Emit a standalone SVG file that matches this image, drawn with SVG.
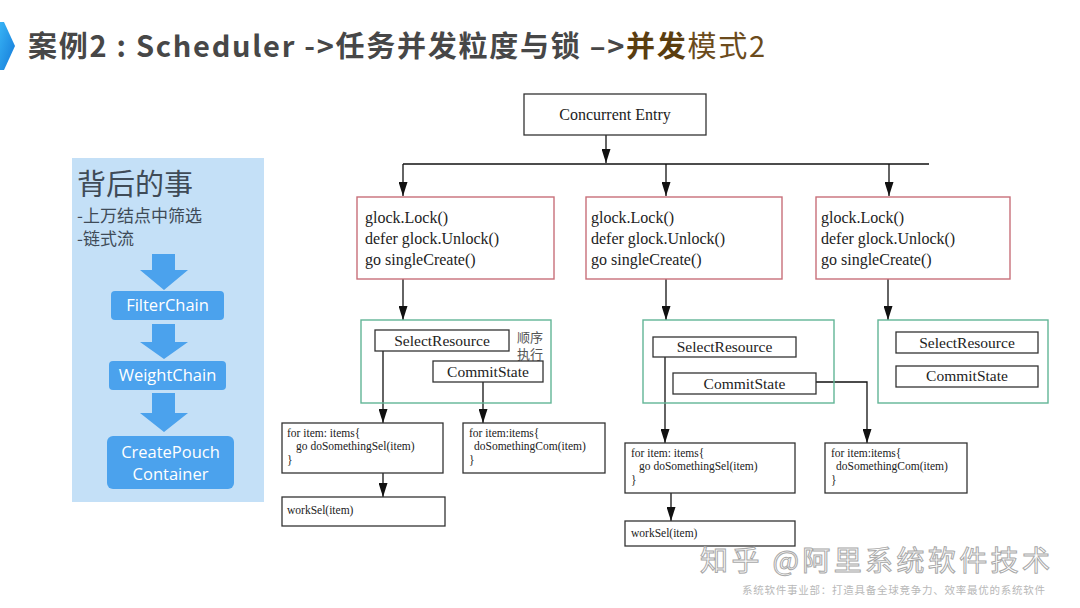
<svg xmlns="http://www.w3.org/2000/svg" width="1080" height="608" viewBox="0 0 1080 608">
<defs>
<linearGradient id="chev" x1="0" y1="0" x2="1" y2="1">
<stop offset="0" stop-color="#37b3f5"/>
<stop offset="1" stop-color="#1479d8"/>
</linearGradient>
<marker id="ah" markerUnits="userSpaceOnUse" markerWidth="14" markerHeight="9" refX="14" refY="4.5" orient="auto">
<path d="M0,0 L14,4.5 L0,9 z" fill="#111"/>
</marker>
<style>
.t{font-family:"Noto Sans CJK SC","Noto Sans",sans-serif;}
.title{font-size:29px;font-weight:700;fill:#474747;}
.lp{fill:#3f4b57;}
.bluebox{fill:#4ba2ed;}
.bluearr{fill:#4ba2ed;}
.btxt{font-family:"Open Sans","Noto Sans",sans-serif;font-size:16.5px;fill:#ffffff;text-anchor:middle;}
.red{fill:#fff;stroke:#c86f79;stroke-width:1.4;}
.grn{fill:none;stroke:#62b596;stroke-width:1.4;}
.blk{fill:#fff;stroke:#333;stroke-width:1.3;}
.code{font-family:"Liberation Serif",serif;font-size:16px;fill:#222;}
.mid{font-family:"Liberation Serif",serif;font-size:15.5px;fill:#222;text-anchor:middle;}
.sm{font-family:"Liberation Serif",serif;font-size:11.5px;fill:#222;}
.con{fill:none;stroke:#111;stroke-width:1.3;}
</style>
</defs>
<rect width="1080" height="608" fill="#ffffff"/>

<g id="header">
<path d="M0,22 L4,22 L15,46 L4,70 L0,70 z" fill="url(#chev)"/>
<text class="t title" x="28" y="57" textLength="737" lengthAdjust="spacing">案例2 : Scheduler -&gt;任务并发粒度与锁 –&gt;<tspan fill="#5a3d0f">并发</tspan><tspan fill="#6b4b1c" font-weight="400">模式2</tspan></text>
</g>

<g id="left-panel">
<rect x="72" y="158" width="192" height="344" fill="#c4e0f7"/>
<text class="t lp" x="77" y="195" font-size="29">背后的事</text>
<text class="t lp" x="77" y="222" font-size="17">-上万结点中筛选</text>
<text class="t lp" x="77" y="245" font-size="17">-链式流</text>
<path class="bluearr" d="M152,254 H175 V270 H188 L164,290 L140,270 H152 z"/>
<g id="filterchain">
<rect class="bluebox" x="111" y="291" width="113" height="29" rx="4"/>
<text class="btxt" x="167.5" y="311">FilterChain</text>
</g>
<path class="bluearr" d="M152,324 H175 V342 H188 L164,359 L140,342 H152 z"/>
<g id="weightchain">
<rect class="bluebox" x="109" y="361" width="117" height="29" rx="4"/>
<text class="btxt" x="167.5" y="381">WeightChain</text>
</g>
<path class="bluearr" d="M152,393 H175 V413 H188 L164,432 L140,413 H152 z"/>
<g id="createpouch">
<rect class="bluebox" x="107" y="436" width="127" height="53" rx="6"/>
<text class="btxt" x="170.5" y="458">CreatePouch</text>
<text class="btxt" x="170.5" y="480">Container</text>
</g>
</g>

<g id="connectors">
<path class="con" d="M606,135 V163" marker-end="url(#ah)"/>
<path class="con" d="M403,164 H929"/>
<path class="con" d="M403,164 V196" marker-end="url(#ah)"/>
<path class="con" d="M666,164 V196" marker-end="url(#ah)"/>
<path class="con" d="M889,164 V196" marker-end="url(#ah)"/>
<path class="con" d="M403,279 V320" marker-end="url(#ah)"/>
<path class="con" d="M666,279 V320" marker-end="url(#ah)"/>
<path class="con" d="M888,279 V320" marker-end="url(#ah)"/>
<path class="con" d="M383,350 V423" marker-end="url(#ah)"/>
<path class="con" d="M483,382 V423" marker-end="url(#ah)"/>
<path class="con" d="M383,473 V497" marker-end="url(#ah)"/>
<path class="con" d="M665,357 V443" marker-end="url(#ah)"/>
<path class="con" d="M816,382 H867 V443" marker-end="url(#ah)"/>
<path class="con" d="M671,493 V521" marker-end="url(#ah)"/>
</g>

<g id="entry">
<rect class="blk" x="524" y="94" width="182" height="41"/>
<text class="code" x="615" y="120" text-anchor="middle">Concurrent Entry</text>
</g>

<g id="lock1">
<rect class="red" x="357" y="197" width="197" height="82"/>
<text class="code" x="365" y="223">glock.Lock()</text>
<text class="code" x="365" y="244">defer glock.Unlock()</text>
<text class="code" x="365" y="265">go singleCreate()</text>
</g>
<g id="lock2">
<rect class="red" x="586" y="197" width="196" height="82"/>
<text class="code" x="591" y="223">glock.Lock()</text>
<text class="code" x="591" y="244">defer glock.Unlock()</text>
<text class="code" x="591" y="265">go singleCreate()</text>
</g>
<g id="lock3">
<rect class="red" x="816" y="197" width="194" height="82"/>
<text class="code" x="821" y="223">glock.Lock()</text>
<text class="code" x="821" y="244">defer glock.Unlock()</text>
<text class="code" x="821" y="265">go singleCreate()</text>
</g>

<g id="group1">
<rect class="grn" x="361" y="320" width="190" height="83"/>
<text class="t" x="517" y="342" font-size="13" fill="#555">顺序</text>
<text class="t" x="517" y="359" font-size="13" fill="#555">执行</text>
<g id="select1">
<rect class="blk" x="375" y="330" width="134" height="21"/>
<text class="mid" x="442" y="346">SelectResource</text>
</g>
<g id="commit1">
<rect class="blk" x="433" y="361" width="110" height="21"/>
<text class="mid" x="488" y="377">CommitState</text>
</g>
</g>

<g id="group2">
<rect class="grn" x="643" y="320" width="191" height="83"/>
<g id="select2">
<rect class="blk" x="653" y="337" width="143" height="20"/>
<text class="mid" x="724.5" y="352">SelectResource</text>
</g>
<g id="commit2">
<rect class="blk" x="673" y="373" width="143" height="21"/>
<text class="mid" x="744.5" y="389">CommitState</text>
</g>
</g>

<g id="group3">
<rect class="grn" x="878" y="320" width="170" height="83"/>
<g id="select3">
<rect class="blk" x="896" y="332" width="142" height="21"/>
<text class="mid" x="967" y="348">SelectResource</text>
</g>
<g id="commit3">
<rect class="blk" x="896" y="366" width="142" height="21"/>
<text class="mid" x="967" y="381">CommitState</text>
</g>
</g>

<g id="loop1">
<rect class="blk" x="282" y="423" width="161" height="50"/>
<text class="sm" x="287" y="437">for item: items{</text>
<text class="sm" x="296" y="450">go doSomethingSel(item)</text>
<text class="sm" x="287" y="464">}</text>
</g>
<g id="loop2">
<rect class="blk" x="463" y="423" width="142" height="50"/>
<text class="sm" x="469" y="437">for item:items{</text>
<text class="sm" x="474" y="450">doSomethingCom(item)</text>
<text class="sm" x="469" y="464">}</text>
</g>
<g id="work1">
<rect class="blk" x="282" y="497" width="163" height="29"/>
<text class="sm" x="287" y="514">workSel(item)</text>
</g>

<g id="loop3">
<rect class="blk" x="625" y="443" width="170" height="50"/>
<text class="sm" x="631" y="457">for item: items{</text>
<text class="sm" x="639" y="470">go doSomethingSel(item)</text>
<text class="sm" x="631" y="484">}</text>
</g>
<g id="loop4">
<rect class="blk" x="825" y="443" width="142" height="50"/>
<text class="sm" x="831" y="457">for item:items{</text>
<text class="sm" x="836" y="470">doSomethingCom(item)</text>
<text class="sm" x="831" y="484">}</text>
</g>
<g id="work2">
<rect class="blk" x="625" y="521" width="170" height="25"/>
<text class="sm" x="631" y="537">workSel(item)</text>
</g>

<g id="watermark">
<text class="t" x="700" y="571" font-size="28" fill="#ffffff" stroke="#a8a8a8" stroke-width="1" textLength="350" lengthAdjust="spacing">知乎 @阿里系统软件技术</text>
<text class="t" x="742" y="594" font-size="10.5" fill="#b8b8b8" textLength="303" lengthAdjust="spacing">系统软件事业部：打造具备全球竞争力、效率最优的系统软件</text>
</g>
</svg>
